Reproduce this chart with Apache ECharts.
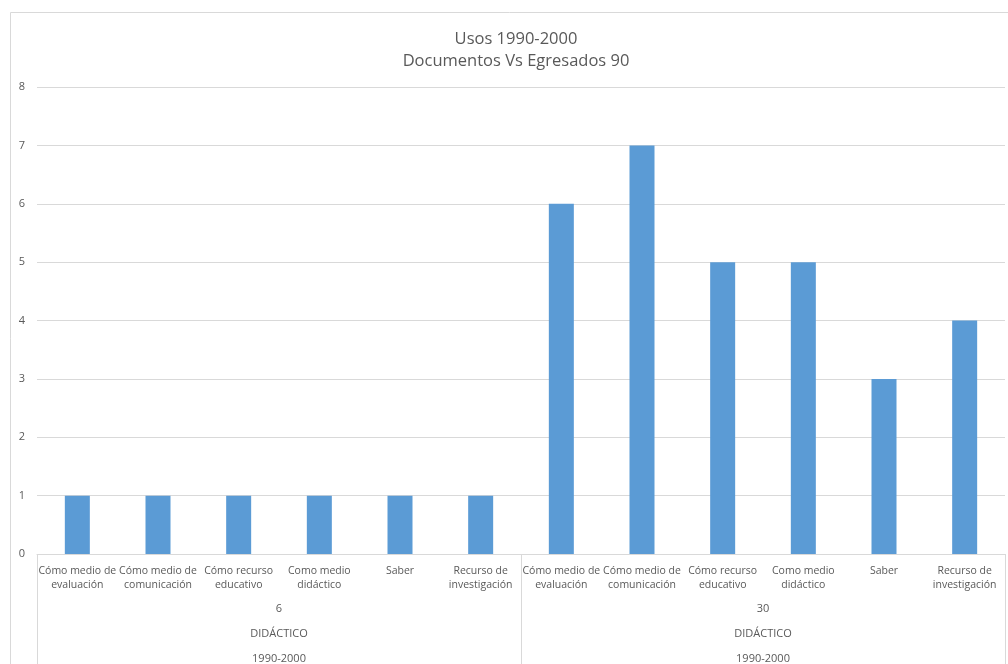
<!DOCTYPE html>
<html>
<head>
<meta charset="utf-8">
<script src="https://cdn.jsdelivr.net/npm/echarts@6/dist/echarts.min.js"></script>
<style>
html,body{margin:0;padding:0;background:#fff;}
#c{width:1008px;height:664px;}
</style>
</head>
<body>
<div id="c"></div>
<script>
const usos = ["Cómo medio de\nevaluación","Cómo medio de\ncomunicación","Cómo recurso\neducativo","Como medio\ndidáctico","Saber","Recurso de\ninvestigación"];
const egresados = ["6","30"];
const tipo = ["DIDÁCTICO","DIDÁCTICO"];
const periodo = ["1990-2000","1990-2000"];
const valores6 = [1,1,1,1,1,1];
const valores30 = [6,7,5,5,3,4];
const yTicks = [0,1,2,3,4,5,6,7,8];

const categories = usos.concat(usos);
const values = valores6.concat(valores30);
const FONT = "'Open Sans', 'Noto Sans', sans-serif";
const txt = '#595959';
const gridC = '#d9d9d9';

const chart = echarts.init(document.getElementById('c'));
function groupAxis(data, margin, showTick) {
  return {
    type: 'category', gridIndex: 0, position: 'bottom', data: data,
    axisLine: {show: false},
    axisTick: {show: showTick, length: 112, interval: 0, lineStyle: {color: gridC}},
    axisLabel: {interval: 0, margin: margin, color: txt, fontFamily: FONT, fontSize: 11},
    splitLine: {show: false}
  };
}
chart.setOption({
  animation: false,
  title: {
    text: 'Usos 1990-2000\nDocumentos Vs Egresados 90',
    left: 511, top: 23, textAlign: 'center',
    textStyle: {color: txt, fontFamily: FONT, fontSize: 16.5, fontWeight: 'normal', lineHeight: 22}
  },
  graphic: [{type: 'rect', shape: {x: 10.5, y: 12.5, width: 1040, height: 700}, style: {fill: 'none', stroke: gridC, lineWidth: 1}, silent: true, z: -1}],
  grid: {left: 37, top: 87, right: 3, bottom: 110},
  xAxis: [
    {
      type: 'category', data: categories,
      axisLine: {show: true, lineStyle: {color: gridC}},
      axisTick: {show: false},
      axisLabel: {interval: 0, hideOverlap: false, margin: 10, color: txt, fontFamily: FONT, fontSize: 10.5, lineHeight: 14,
        formatter: function(v, i){ return categories[i]; }}
    },
    groupAxis(egresados, 49, true),
    groupAxis(tipo, 74, false),
    groupAxis(periodo, 99, false)
  ],
  yAxis: {
    type: 'value', min: 0, max: 8, interval: 1,
    axisLine: {show: false}, axisTick: {show: false},
    axisLabel: {margin: 12, color: txt, fontFamily: FONT, fontSize: 11,
      formatter: function(v){ return yTicks.indexOf(v) >= 0 ? String(v) : ''; }},
    splitLine: {lineStyle: {color: gridC}}
  },
  series: [{
    type: 'bar', xAxisIndex: 0, data: values, barWidth: 25,
    itemStyle: {color: '#5b9bd5'}
  }]
});
</script>
</body>
</html>
